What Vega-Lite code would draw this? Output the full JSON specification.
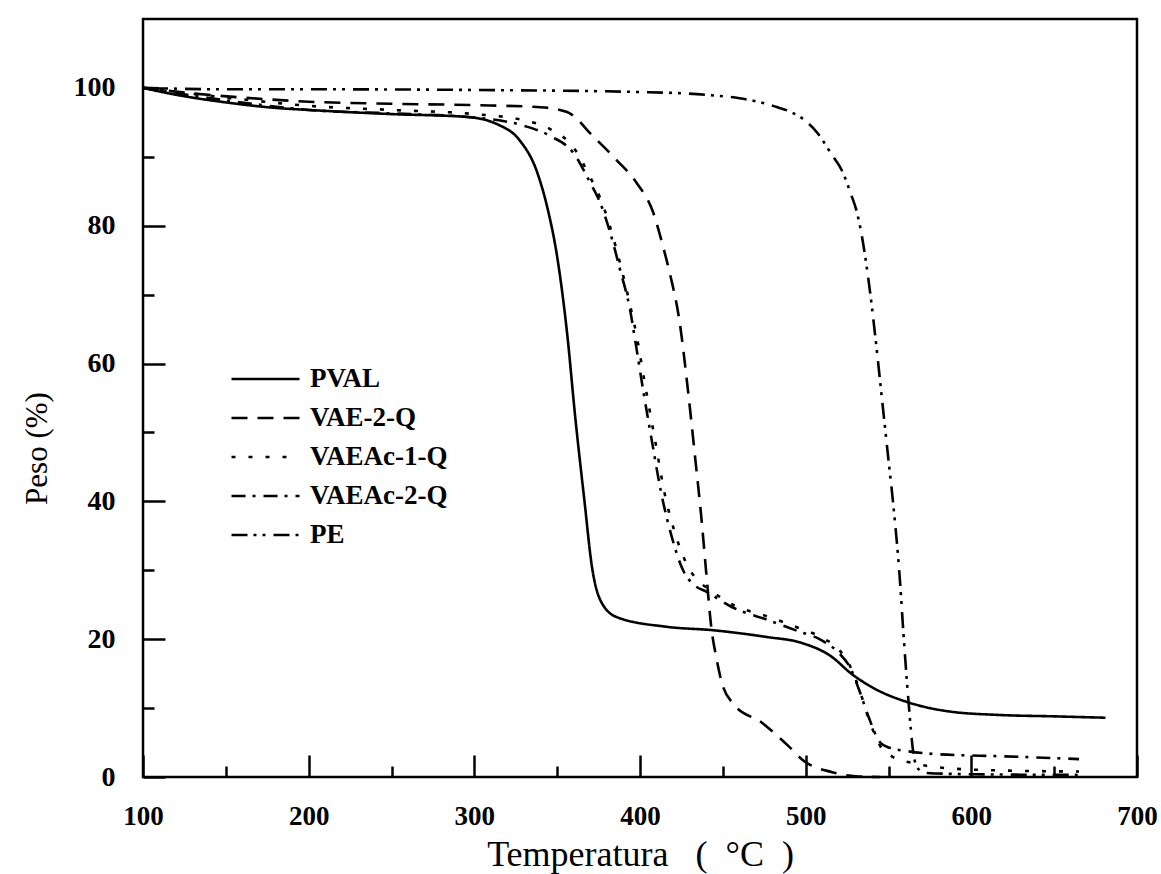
{
  "$schema": "https://vega.github.io/schema/vega-lite/v6.json",
  "width": 994,
  "height": 758,
  "autosize": {"type": "none"},
  "padding": {"left": 143, "top": 19, "right": 24, "bottom": 97},
  "background": "white",
  "config": {
    "font": "Liberation Serif",
    "view": {"stroke": "black", "strokeWidth": 2.5}
  },
  "data": {"values": [
    {"serie":"PVAL","temp":100,"peso":100},{"serie":"PVAL","temp":120,"peso":99.0},{"serie":"PVAL","temp":150,"peso":97.9},{"serie":"PVAL","temp":180,"peso":97.1},{"serie":"PVAL","temp":200,"peso":96.8},{"serie":"PVAL","temp":250,"peso":96.2},{"serie":"PVAL","temp":295,"peso":95.8},{"serie":"PVAL","temp":315,"peso":94.6},{"serie":"PVAL","temp":327,"peso":92.5},{"serie":"PVAL","temp":338,"peso":87.7},{"serie":"PVAL","temp":344,"peso":82.7},{"serie":"PVAL","temp":350,"peso":75.5},{"serie":"PVAL","temp":356,"peso":64.4},{"serie":"PVAL","temp":361,"peso":52},{"serie":"PVAL","temp":366.5,"peso":40},{"serie":"PVAL","temp":371,"peso":30.5},{"serie":"PVAL","temp":376,"peso":25.7},{"serie":"PVAL","temp":386,"peso":23.2},{"serie":"PVAL","temp":416,"peso":21.8},{"serie":"PVAL","temp":444,"peso":21.3},{"serie":"PVAL","temp":477,"peso":20.3},{"serie":"PVAL","temp":497,"peso":19.5},{"serie":"PVAL","temp":516,"peso":17.4},{"serie":"PVAL","temp":527,"peso":15.1},{"serie":"PVAL","temp":541,"peso":12.9},{"serie":"PVAL","temp":561,"peso":10.9},{"serie":"PVAL","temp":587,"peso":9.5},{"serie":"PVAL","temp":617,"peso":9.0},{"serie":"PVAL","temp":650,"peso":8.8},{"serie":"PVAL","temp":681,"peso":8.6},
    {"serie":"VAE-2-Q","temp":100,"peso":100},{"serie":"VAE-2-Q","temp":130,"peso":99.2},{"serie":"VAE-2-Q","temp":160,"peso":98.6},{"serie":"VAE-2-Q","temp":200,"peso":98.0},{"serie":"VAE-2-Q","temp":250,"peso":97.7},{"serie":"VAE-2-Q","temp":300,"peso":97.5},{"serie":"VAE-2-Q","temp":340,"peso":97.2},{"serie":"VAE-2-Q","temp":356,"peso":96.5},{"serie":"VAE-2-Q","temp":372,"peso":92.9},{"serie":"VAE-2-Q","temp":386,"peso":89.5},{"serie":"VAE-2-Q","temp":398,"peso":86.2},{"serie":"VAE-2-Q","temp":408,"peso":81.9},{"serie":"VAE-2-Q","temp":414,"peso":76.9},{"serie":"VAE-2-Q","temp":418,"peso":73.1},{"serie":"VAE-2-Q","temp":424,"peso":65.9},{"serie":"VAE-2-Q","temp":429,"peso":56},{"serie":"VAE-2-Q","temp":433,"peso":47},{"serie":"VAE-2-Q","temp":437,"peso":37.7},{"serie":"VAE-2-Q","temp":440,"peso":29.6},{"serie":"VAE-2-Q","temp":443,"peso":21.8},{"serie":"VAE-2-Q","temp":446,"peso":17.4},{"serie":"VAE-2-Q","temp":449.5,"peso":13.6},{"serie":"VAE-2-Q","temp":456,"peso":10.7},{"serie":"VAE-2-Q","temp":474,"peso":7.8},{"serie":"VAE-2-Q","temp":490,"peso":4.4},{"serie":"VAE-2-Q","temp":498,"peso":2.5},{"serie":"VAE-2-Q","temp":516,"peso":0.7},{"serie":"VAE-2-Q","temp":530,"peso":0.1},{"serie":"VAE-2-Q","temp":545,"peso":0},
    {"serie":"VAEAc-1-Q","temp":100,"peso":100},{"serie":"VAEAc-1-Q","temp":150,"peso":98.6},{"serie":"VAEAc-1-Q","temp":200,"peso":97.4},{"serie":"VAEAc-1-Q","temp":250,"peso":96.8},{"serie":"VAEAc-1-Q","temp":300,"peso":96.2},{"serie":"VAEAc-1-Q","temp":330,"peso":95.3},{"serie":"VAEAc-1-Q","temp":346,"peso":94},{"serie":"VAEAc-1-Q","temp":360,"peso":91.3},{"serie":"VAEAc-1-Q","temp":370,"peso":87},{"serie":"VAEAc-1-Q","temp":376,"peso":84},{"serie":"VAEAc-1-Q","temp":382,"peso":79.8},{"serie":"VAEAc-1-Q","temp":388,"peso":74.5},{"serie":"VAEAc-1-Q","temp":394,"peso":68.5},{"serie":"VAEAc-1-Q","temp":398,"peso":64},{"serie":"VAEAc-1-Q","temp":403,"peso":57},{"serie":"VAEAc-1-Q","temp":409,"peso":49},{"serie":"VAEAc-1-Q","temp":415,"peso":41},{"serie":"VAEAc-1-Q","temp":421,"peso":35.5},{"serie":"VAEAc-1-Q","temp":428,"peso":31},{"serie":"VAEAc-1-Q","temp":435,"peso":28.5},{"serie":"VAEAc-1-Q","temp":442,"peso":27.2},{"serie":"VAEAc-1-Q","temp":456,"peso":25},{"serie":"VAEAc-1-Q","temp":477,"peso":23.3},{"serie":"VAEAc-1-Q","temp":495,"peso":21.7},{"serie":"VAEAc-1-Q","temp":510,"peso":20.2},{"serie":"VAEAc-1-Q","temp":520,"peso":18.5},{"serie":"VAEAc-1-Q","temp":527,"peso":16},{"serie":"VAEAc-1-Q","temp":532,"peso":13},{"serie":"VAEAc-1-Q","temp":538,"peso":8.5},{"serie":"VAEAc-1-Q","temp":545,"peso":4.5},{"serie":"VAEAc-1-Q","temp":552,"peso":3.0},{"serie":"VAEAc-1-Q","temp":565,"peso":2.0},{"serie":"VAEAc-1-Q","temp":580,"peso":1.4},{"serie":"VAEAc-1-Q","temp":610,"peso":1.0},{"serie":"VAEAc-1-Q","temp":665,"peso":0.8},
    {"serie":"VAEAc-2-Q","temp":100,"peso":100},{"serie":"VAEAc-2-Q","temp":150,"peso":98.2},{"serie":"VAEAc-2-Q","temp":200,"peso":96.8},{"serie":"VAEAc-2-Q","temp":250,"peso":96.3},{"serie":"VAEAc-2-Q","temp":300,"peso":95.7},{"serie":"VAEAc-2-Q","temp":330,"peso":94.5},{"serie":"VAEAc-2-Q","temp":346,"peso":93},{"serie":"VAEAc-2-Q","temp":360,"peso":90.5},{"serie":"VAEAc-2-Q","temp":370,"peso":86.2},{"serie":"VAEAc-2-Q","temp":376,"peso":83.3},{"serie":"VAEAc-2-Q","temp":382,"peso":79},{"serie":"VAEAc-2-Q","temp":388,"peso":73.6},{"serie":"VAEAc-2-Q","temp":394,"peso":67.8},{"serie":"VAEAc-2-Q","temp":397,"peso":63.5},{"serie":"VAEAc-2-Q","temp":402,"peso":56},{"serie":"VAEAc-2-Q","temp":407,"peso":49},{"serie":"VAEAc-2-Q","temp":413,"peso":41},{"serie":"VAEAc-2-Q","temp":419,"peso":35},{"serie":"VAEAc-2-Q","temp":426,"peso":30},{"serie":"VAEAc-2-Q","temp":433,"peso":27.8},{"serie":"VAEAc-2-Q","temp":440,"peso":26.9},{"serie":"VAEAc-2-Q","temp":456,"peso":24.6},{"serie":"VAEAc-2-Q","temp":477,"peso":22.8},{"serie":"VAEAc-2-Q","temp":495,"peso":21.2},{"serie":"VAEAc-2-Q","temp":510,"peso":19.8},{"serie":"VAEAc-2-Q","temp":520,"peso":18},{"serie":"VAEAc-2-Q","temp":527,"peso":15.8},{"serie":"VAEAc-2-Q","temp":532,"peso":12.8},{"serie":"VAEAc-2-Q","temp":538,"peso":8.7},{"serie":"VAEAc-2-Q","temp":545,"peso":5},{"serie":"VAEAc-2-Q","temp":551,"peso":4.2},{"serie":"VAEAc-2-Q","temp":560,"peso":3.8},{"serie":"VAEAc-2-Q","temp":580,"peso":3.3},{"serie":"VAEAc-2-Q","temp":620,"peso":3.0},{"serie":"VAEAc-2-Q","temp":665,"peso":2.6},
    {"serie":"PE","temp":100,"peso":100},{"serie":"PE","temp":150,"peso":99.8},{"serie":"PE","temp":200,"peso":99.8},{"serie":"PE","temp":300,"peso":99.7},{"serie":"PE","temp":400,"peso":99.4},{"serie":"PE","temp":440,"peso":99.0},{"serie":"PE","temp":460,"peso":98.5},{"serie":"PE","temp":471,"peso":98},{"serie":"PE","temp":483,"peso":97.2},{"serie":"PE","temp":492,"peso":96.4},{"serie":"PE","temp":500,"peso":95.2},{"serie":"PE","temp":507,"peso":93.5},{"serie":"PE","temp":515,"peso":90.6},{"serie":"PE","temp":522.5,"peso":87.7},{"serie":"PE","temp":527,"peso":84.8},{"serie":"PE","temp":531,"peso":81.9},{"serie":"PE","temp":534,"peso":78.4},{"serie":"PE","temp":538,"peso":72},{"serie":"PE","temp":542,"peso":64},{"serie":"PE","temp":546,"peso":55},{"serie":"PE","temp":550,"peso":46},{"serie":"PE","temp":552.6,"peso":40.2},{"serie":"PE","temp":557,"peso":28.2},{"serie":"PE","temp":559,"peso":20.9},{"serie":"PE","temp":562,"peso":11.2},{"serie":"PE","temp":565,"peso":3.5},{"serie":"PE","temp":567,"peso":1.5},{"serie":"PE","temp":572,"peso":0.6},{"serie":"PE","temp":600,"peso":0.4},{"serie":"PE","temp":665,"peso":0.3}
  ]},
  "layer": [
    {
      "mark": {"type": "line", "color": "black", "strokeWidth": 2.6, "interpolate": "monotone"},
      "encoding": {
        "x": {"field": "temp", "type": "quantitative",
          "scale": {"domain": [100, 700], "nice": false, "zero": false},
          "axis": {"orient": "bottom", "values": [100,200,300,400,500,600,700], "grid": false, "domain": false,
            "tickSize": -22, "tickWidth": 2.5, "tickColor": "black",
            "labelFontSize": 27, "labelFontWeight": "bold", "labelColor": "black", "labelPadding": 48, "labelFlush": false,
            "title": "Temperatura\u00a0\u00a0\u00a0(\u00a0\u00a0°C\u00a0\u00a0)", "titleFontSize": 36, "titleFontWeight": "normal", "titleColor": "black",
            "titleY": 88, "titleBaseline": "alphabetic"}},
        "y": {"field": "peso", "type": "quantitative",
          "scale": {"domain": [0, 110], "nice": false},
          "axis": {"orient": "left", "values": [0,20,40,60,80,100], "grid": false, "domain": false,
            "tickSize": -22, "tickWidth": 2.5, "tickColor": "black",
            "labelFontSize": 28, "labelFontWeight": "bold", "labelColor": "black", "labelPadding": 50,
            "title": "Peso  (%)", "titleFontSize": 31, "titleFontWeight": "normal", "titleColor": "black",
            "titleX": -106, "titleY": 429, "titleAngle": -90, "titleBaseline": "middle", "titleAlign": "center"}},
        "strokeDash": {"field": "serie", "type": "nominal",
          "scale": {"domain": ["PVAL","VAE-2-Q","VAEAc-1-Q","VAEAc-2-Q","PE"],
            "range": [[1,0],[16,10],[4,13],[14,7,3,8],[16,6,3,6,3,8]]},
          "legend": {"orient": "none", "legendX": 87, "legendY": 348, "title": null,
            "symbolType": "stroke", "symbolSize": 4624, "symbolStrokeWidth": 2.6, "symbolStrokeColor": "black",
            "clipHeight": 24, "rowPadding": 12, "padding": 0, "labelOffset": 9,
            "labelFontSize": 27, "labelFontWeight": "bold", "labelColor": "black", "labelLimit": 300}}
      }
    },
    {
      "mark": {"type": "point", "opacity": 0},
      "encoding": {
        "x": {"field": "temp", "type": "quantitative",
          "axis": {"orient": "bottom", "values": [150,250,350,450,550,650], "grid": false, "domain": false,
            "labels": false, "title": null, "tickSize": -11, "tickWidth": 2.5, "tickColor": "black"}},
        "y": {"field": "peso", "type": "quantitative",
          "axis": {"orient": "left", "values": [10,30,50,70,90], "grid": false, "domain": false,
            "labels": false, "title": null, "tickSize": -11, "tickWidth": 2.5, "tickColor": "black"}}
      }
    }
  ],
  "resolve": {"axis": {"x": "independent", "y": "independent"}}
}
